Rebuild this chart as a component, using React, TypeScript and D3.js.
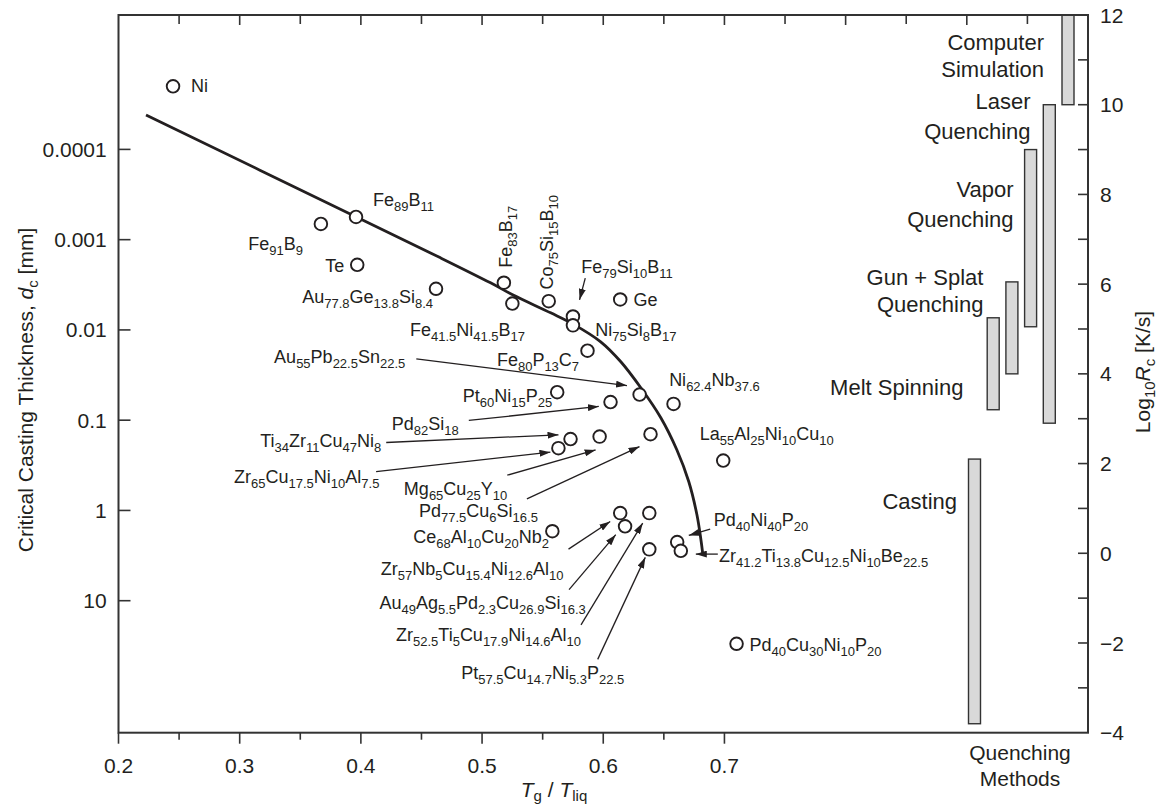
import React from 'react';
import * as d3 from 'd3';

// ---------------- data ----------------
const alloys = [
  'Ni', 'Fe91B9', 'Fe89B11', 'Te', 'Au77.8Ge13.8Si8.4', 'Fe83B17', 'Fe41.5Ni41.5B17',
  'Co75Si15B10', 'Fe79Si10B11', 'Ni75Si8B17', 'Ge', 'Fe80P13C7', 'Pt60Ni15P25', 'Pd82Si18',
  'Au55Pb22.5Sn22.5', 'Ni62.4Nb37.6', 'Ti34Zr11Cu47Ni8', 'Zr65Cu17.5Ni10Al7.5', 'Mg65Cu25Y10',
  'Pd77.5Cu6Si16.5', 'La55Al25Ni10Cu10', 'Zr57Nb5Cu15.4Ni12.6Al10', 'Au49Ag5.5Pd2.3Cu26.9Si16.3',
  'Zr52.5Ti5Cu17.9Ni14.6Al10', 'Pt57.5Cu14.7Ni5.3P22.5', 'Ce68Al10Cu20Nb2', 'Pd40Ni40P20',
  'Zr41.2Ti13.8Cu12.5Ni10Be22.5', 'Pd40Cu30Ni10P20',
];
const tgTliq = [
  0.245, 0.367, 0.396, 0.397, 0.462, 0.518, 0.525,
  0.555, 0.575, 0.575, 0.614, 0.587, 0.562, 0.606,
  0.630, 0.658, 0.573, 0.563, 0.597,
  0.639, 0.699, 0.614, 0.618,
  0.638, 0.638, 0.558, 0.661,
  0.664, 0.710,
];
const dcMM = [
  2.0e-5, 6.7e-4, 5.6e-4, 1.9e-3, 3.5e-3, 3.0e-3, 5.1e-3,
  4.8e-3, 7.1e-3, 8.9e-3, 4.6e-3, 0.017, 0.049, 0.063,
  0.052, 0.066, 0.162, 0.204, 0.152,
  0.143, 0.28, 1.07, 1.5,
  1.07, 2.7, 1.7, 2.24,
  2.8, 30,
];

// trend curve
const curveTg = [0.2227, 0.3963, 0.4657, 0.507, 0.5252, 0.5566, 0.5748, 0.5979, 0.6145, 0.631, 0.6475, 0.6607, 0.6706, 0.6773, 0.6806, 0.6822];
const curveDc = [4.15e-5, 5.61e-4, 1.59e-3, 3.01e-3, 4.08e-3, 6.47e-3, 8.57e-3, 0.01355, 0.02254, 0.04375, 0.094, 0.2128, 0.481, 1.117, 2.109, 3.097];

// quenching methods (log10 Rc ranges)
const methods = ['Casting', 'Melt Spinning', 'Gun + Splat Quenching', 'Vapor Quenching', 'Laser Quenching', 'Computer Simulation'];
const rcLow = [-3.8, 3.2, 4.0, 5.05, 2.9, 10];
const rcHigh = [2.1, 5.25, 6.05, 9.0, 10.0, 12];

const xTickLabels = ['0.2', '0.3', '0.4', '0.5', '0.6', '0.7'];
const yTickValues = [0.0001, 0.001, 0.01, 0.1, 1, 10];
const yTickLabels = ['0.0001', '0.001', '0.01', '0.1', '1', '10'];
const rTickValues = [-4, -2, 0, 2, 4, 6, 8, 10, 12];
const rTickLabels = ['\u22124', '\u22122', '0', '2', '4', '6', '8', '10', '12'];

// ---------------- layout ----------------
const W = 1161, H = 809;
const M = { left: 118.5, right: 1088, top: 15, bottom: 732.7 };
const FONT = '"Liberation Sans", Arial, Helvetica, sans-serif';
const INK = '#231f20';

type Lay = { dx: number; dy: number; anchor?: string; rot?: boolean; arrow?: number[] };
const labelLayout: Record<string, Lay> = {
  'Ni': { dx: 18, dy: 6 },
  'Fe91B9': { dx: -18, dy: 26, anchor: 'end' },
  'Fe89B11': { dx: 17, dy: -10.5 },
  'Te': { dx: -13, dy: 7, anchor: 'end' },
  'Au77.8Ge13.8Si8.4': { dx: -3, dy: 14, anchor: 'end' },
  'Fe83B17': { dx: 8.5, dy: -15, rot: true },
  'Fe41.5Ni41.5B17': { dx: 12.7, dy: 32.7, anchor: 'end' },
  'Co75Si15B10': { dx: 4, dy: -11.7, rot: true },
  'Fe79Si10B11': { dx: 8.3, dy: -43.4, arrow: [12.3, -38.4, 6.6, -16.7] },
  'Ni75Si8B17': { dx: 22.3, dy: 11 },
  'Ge': { dx: 13.3, dy: 6.7 },
  'Fe80P13C7': { dx: -8.4, dy: 15, anchor: 'end' },
  'Pt60Ni15P25': { dx: -5, dy: 9.4, anchor: 'end' },
  'Pd82Si18': { dx: -151.7, dy: 27.7, anchor: 'end', arrow: [-141.7, 18.4, -11.7, 4.4] },
  'Au55Pb22.5Sn22.5': { dx: -234.3, dy: -31.7, anchor: 'end', arrow: [-223.3, -35.7, -12.6, -9] },
  'Ni62.4Nb37.6': { dx: -4.4, dy: -18.3 },
  'Ti34Zr11Cu47Ni8': { dx: -189.3, dy: 8, anchor: 'end', arrow: [-184.3, 3.4, -12, -4.3] },
  'Zr65Cu17.5Ni10Al7.5': { dx: -179, dy: 35, anchor: 'end', arrow: [-182.3, 23.4, -8, 4] },
  'Mg65Cu25Y10': { dx: -92.3, dy: 58.3, anchor: 'end', arrow: [-92.3, 38.6, -4, 13.3] },
  'Pd77.5Cu6Si16.5': { dx: -112.6, dy: 82.4, anchor: 'end', arrow: [-123.6, 64.7, -11, 12.4] },
  'La55Al25Ni10Cu10': { dx: -23.4, dy: -21 },
  'Zr57Nb5Cu15.4Ni12.6Al10': { dx: -56.7, dy: 61.7, anchor: 'end', arrow: [-51.7, 36, -10, 8.4] },
  'Au49Ag5.5Pd2.3Cu26.9Si16.3': { dx: -39.3, dy: 82.6, anchor: 'end', arrow: [-56, 63.3, -9.3, 8.3] },
  'Zr52.5Ti5Cu17.9Ni14.6Al10': { dx: -68.3, dy: 128.4, anchor: 'end', arrow: [-68.3, 111.7, -6.6, 10] },
  'Pt57.5Cu14.7Ni5.3P22.5': { dx: -25, dy: 130, anchor: 'end', arrow: [-51.6, 110, -4, 8] },
  'Ce68Al10Cu20Nb2': { dx: -3.4, dy: 11.6, anchor: 'end' },
  'Pd40Ni40P20': { dx: 36.6, dy: -15.6, arrow: [33, -13, 11.6, -6.6] },
  'Zr41.2Ti13.8Cu12.5Ni10Be22.5': { dx: 38.3, dy: 10.7, arrow: [37, 3.3, 15, 3.3] },
  'Pd40Cu30Ni10P20': { dx: 13, dy: 7 },
};

// method label layout: [dx from bar centre (right edge of text), dy of each line from bar top]
const methodLabelLayout: Record<string, { dx: number; lines: string[]; dys: number[] }> = {
  'Casting': { dx: -17.5, lines: ['Casting'], dys: [50] },
  'Melt Spinning': { dx: -29.8, lines: ['Melt Spinning'], dys: [77] },
  'Gun + Splat Quenching': { dx: -28.5, lines: ['Gun + Splat', 'Quenching'], dys: [3, 29.7] },
  'Vapor Quenching': { dx: -17, lines: ['Vapor', 'Quenching'], dys: [47.7, 77.7] },
  'Laser Quenching': { dx: -18.7, lines: ['Laser', 'Quenching'], dys: [4.5, 34.5] },
  'Computer Simulation': { dx: -24, lines: ['Computer', 'Simulation'], dys: [35, 61.7] },
};

const x = d3.scaleLinear().domain([0.2, 1.0]).range([M.left, M.right]);
const y = d3.scaleLog().domain([1e-4, 10]).range([149.4, 600.7]);
const yR = d3.scaleLinear().domain([-4, 12]).range([M.bottom, M.top]);
const xm = d3.scalePoint<string>().domain(methods).range([974.5, 1068]);

function Formula(props: any) {
  const { text, size = 18, sub = 13, shift = 5, ...rest } = props;
  const tokens: string[] = text.match(/[A-Z][a-z]?|[\d.]+|[^A-Za-z\d.]+/g) || [];
  let state = 0;
  const spans = tokens.map((t, i) => {
    const isSub = /^[\d.]+$/.test(t);
    const target = isSub ? shift : 0;
    const dy = target - state;
    state = target;
    return (
      <tspan key={i} dy={dy} fontSize={isSub ? sub : size}>{t}</tspan>
    );
  });
  return <text {...rest} fontSize={size}>{spans}</text>;
}

export default function App() {
  const pts = alloys.map((name, i) => ({ name, px: x(tgTliq[i]), py: y(dcMM[i]) }));
  const curveData = curveTg.map((t, i) => [x(t), y(curveDc[i])] as [number, number]);
  const linePath = d3.line().curve(d3.curveCatmullRom.alpha(0.5))(curveData) || '';

  const topTicks = d3.range(0.25, 0.999, 0.05);
  const botTicks = d3.range(0.2, 0.7001, 0.05);
  const rMinor = d3.range(-3, 12, 1);

  return (
    <svg width={W} height={H} style={{ position: 'absolute', left: 0, top: 0, display: 'block', background: '#fff' }} fontFamily={FONT}>
      <defs>
        <marker id="ah" viewBox="0 0 11 7" refX="11" refY="3.5" markerWidth="11" markerHeight="7" markerUnits="userSpaceOnUse" orient="auto">
          <path d="M0,0 L11,3.5 L0,7 Z" fill={INK} />
        </marker>
      </defs>
      <rect x={0} y={0} width={W} height={H} fill="#fff" />

      {/* quenching method bars */}
      {methods.map((m, i) => (
        <rect key={m} x={(xm(m) as number) - 6} y={yR(rcHigh[i])} width={12} height={yR(rcLow[i]) - yR(rcHigh[i])}
          fill="#d9d9d9" stroke="#333" strokeWidth={1.4} />
      ))}
      {methods.map((m, i) => {
        const L = methodLabelLayout[m];
        const top = yR(rcHigh[i]);
        return L.lines.map((ln, j) => (
          <text key={m + j} x={(xm(m) as number) + L.dx} y={top + L.dys[j]} textAnchor="end" fontSize={22} fill={INK}>{ln}</text>
        ));
      })}

      {/* frame */}
      <rect x={M.left} y={M.top} width={M.right - M.left} height={M.bottom - M.top} fill="none" stroke="#333" strokeWidth={2} />

      {/* bottom ticks (outward) */}
      {botTicks.map((t, i) => {
        const major = Math.abs(t * 10 - Math.round(t * 10)) < 1e-6;
        return <line key={'b' + i} x1={x(t)} x2={x(t)} y1={M.bottom} y2={M.bottom + (major ? 11 : 7)} stroke="#333" strokeWidth={1.6} />;
      })}
      {xTickLabels.map((l) => (
        <text key={'bl' + l} x={x(+l)} y={772.7} textAnchor="middle" fontSize={21} fill={INK}>{l}</text>
      ))}
      {/* top ticks (inward) */}
      {topTicks.map((t, i) => {
        const major = Math.abs(t * 10 - Math.round(t * 10)) < 1e-6;
        return <line key={'t' + i} x1={x(t)} x2={x(t)} y1={M.top} y2={M.top + (major ? 10 : 9)} stroke="#333" strokeWidth={1.6} />;
      })}
      {/* left ticks */}
      {yTickValues.map((v, i) => (
        <g key={'y' + i}>
          <line x1={M.left} x2={M.left + 12} y1={y(v)} y2={y(v)} stroke="#333" strokeWidth={1.6} />
          <text x={106.7} y={y(v)} dy="0.36em" textAnchor="end" fontSize={21} fill={INK}>{yTickLabels[i]}</text>
        </g>
      ))}
      {/* right ticks */}
      {rMinor.map((v) => (
        <line key={'r' + v} x1={M.right - 10} x2={M.right} y1={yR(v)} y2={yR(v)} stroke="#333" strokeWidth={1.6} />
      ))}
      {rTickValues.map((v, i) => (
        <text key={'rl' + v} x={1100} y={yR(v)} dy="0.36em" textAnchor="start" fontSize={21} fill={INK}>{rTickLabels[i]}</text>
      ))}

      {/* axis titles */}
      <text transform="translate(33,390) rotate(-90)" textAnchor="middle" fontSize={21} fill={INK}>
        Critical Casting Thickness, <tspan fontStyle="italic">d</tspan><tspan fontSize={15} dy={5}>c</tspan><tspan dy={-5}> [mm]</tspan>
      </text>
      <text transform="translate(1150,372) rotate(-90)" textAnchor="middle" fontSize={21} fill={INK}>
        Log<tspan fontSize={15} dy={5}>10</tspan><tspan dy={-5} fontStyle="italic">R</tspan><tspan fontSize={15} dy={5}>c</tspan><tspan dy={-5}> [K/s]</tspan>
      </text>
      <text x={554} y={797} textAnchor="middle" fontSize={21} fill={INK}>
        <tspan fontStyle="italic">T</tspan><tspan fontSize={15} dy={4}>g</tspan><tspan dy={-4}> / </tspan><tspan fontStyle="italic">T</tspan><tspan fontSize={15} dy={4}>liq</tspan>
      </text>
      <text x={1020} y={760} textAnchor="middle" fontSize={21} fill={INK}>Quenching</text>
      <text x={1020} y={786} textAnchor="middle" fontSize={21} fill={INK}>Methods</text>

      {/* trend curve */}
      <path d={linePath} fill="none" stroke={INK} strokeWidth={2.8} />

      {/* arrows */}
      {pts.map((p) => {
        const L = labelLayout[p.name];
        if (!L || !L.arrow) return null;
        const [sx, sy, ex, ey] = L.arrow;
        return <line key={'a' + p.name} x1={p.px + sx} y1={p.py + sy} x2={p.px + ex} y2={p.py + ey} stroke={INK} strokeWidth={1.3} markerEnd="url(#ah)" />;
      })}

      {/* points */}
      {pts.map((p) => (
        <circle key={'c' + p.name} cx={p.px} cy={p.py} r={6.3} fill="#fff" stroke={INK} strokeWidth={1.9} />
      ))}

      {/* labels */}
      {pts.map((p) => {
        const L = labelLayout[p.name];
        if (!L) return null;
        if (L.rot) {
          return <Formula key={'l' + p.name} text={p.name} transform={`translate(${p.px + L.dx},${p.py + L.dy}) rotate(-90)`} textAnchor="start" fill={INK} />;
        }
        return <Formula key={'l' + p.name} text={p.name} x={p.px + L.dx} y={p.py + L.dy} textAnchor={L.anchor || 'start'} fill={INK} />;
      })}
    </svg>
  );
}
